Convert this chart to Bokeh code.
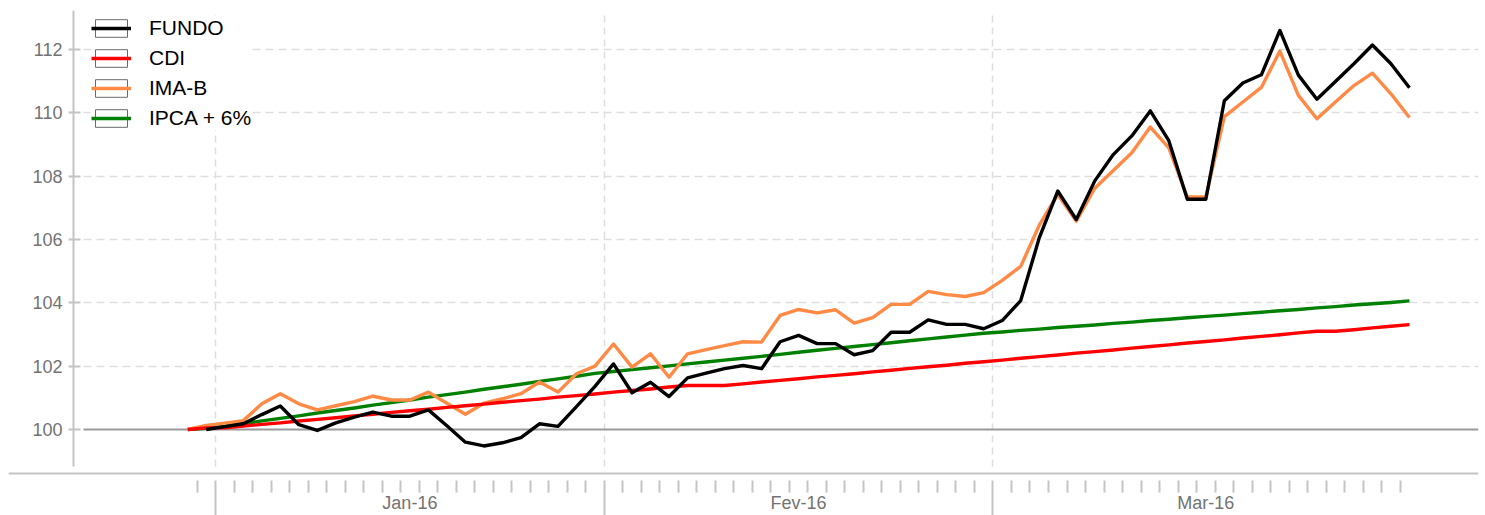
import numpy as np
from bokeh.plotting import figure
from bokeh.models import (FixedTicker, Legend, LegendItem, LinearAxis, Grid,
                          ColumnDataSource, Range1d)
from bokeh.embed import file_html
from bokeh.resources import INLINE

nan = float("nan")

# weekday index: 0 = 30-Dec-15, 1 = 31-Dec-15, 2 = 01-Jan-16 ... 66 = 31-Mar-16
day_index = list(range(67))

fundo = [nan, 100.00, 100.09, 100.18, 100.47, 100.74, 100.15, 99.97, 100.21, 100.39,
         100.55, 100.42, 100.42, 100.62, 100.12, 99.60, 99.48, 99.58, 99.74, 100.18,
         100.10, 100.72, 101.36, 102.07, 101.16, 101.49, 101.04, 101.63, 101.78, 101.92,
         102.02, 101.92, 102.77, 102.97, 102.71, 102.71, 102.36, 102.49, 103.07, 103.07,
         103.46, 103.32, 103.32, 103.18, 103.44, 104.07, 106.05, 107.53, 106.63, 107.85,
         108.68, 109.27, 110.06, 109.12, 107.27, 107.27, 110.38, 110.94, 111.20, 112.60,
         111.19, 110.43, 110.99, 111.55, 112.14, 111.55, 110.79]

cdi = [100.00, 100.05, 100.05, 100.11, 100.16, 100.21, 100.27, 100.32, 100.37, 100.43,
       100.48, 100.54, 100.59, 100.64, 100.70, 100.75, 100.80, 100.86, 100.91, 100.96,
       101.02, 101.07, 101.12, 101.18, 101.23, 101.28, 101.34, 101.39, 101.39, 101.39,
       101.44, 101.50, 101.55, 101.60, 101.66, 101.71, 101.76, 101.82, 101.87, 101.93,
       101.98, 102.03, 102.09, 102.14, 102.19, 102.25, 102.30, 102.35, 102.41, 102.46,
       102.51, 102.57, 102.62, 102.67, 102.73, 102.78, 102.83, 102.89, 102.94, 102.99,
       103.05, 103.10, 103.10, 103.15, 103.21, 103.26, 103.31]

imab = [100.00, 100.13, 100.20, 100.28, 100.81, 101.13, 100.81, 100.62, 100.75, 100.88,
        101.05, 100.93, 100.93, 101.18, 100.83, 100.48, 100.83, 100.97, 101.13, 101.50,
        101.18, 101.76, 102.00, 102.70, 101.97, 102.39, 101.65, 102.39, 102.52, 102.65,
        102.77, 102.76, 103.60, 103.79, 103.68, 103.78, 103.36, 103.53, 103.95, 103.95,
        104.36, 104.26, 104.20, 104.32, 104.71, 105.15, 106.45, 107.42, 106.58, 107.62,
        108.18, 108.74, 109.55, 108.89, 107.34, 107.34, 109.88, 110.34, 110.80, 111.95,
        110.55, 109.81, 110.34, 110.86, 111.25, 110.60, 109.85]

ipca6 = [100.00, 100.04, 100.10, 100.18, 100.27, 100.35, 100.43, 100.52, 100.60, 100.68,
         100.77, 100.85, 100.93, 101.02, 101.10, 101.18, 101.27, 101.35, 101.43, 101.52,
         101.60, 101.68, 101.77, 101.83, 101.89, 101.95, 102.01, 102.07, 102.13, 102.19,
         102.25, 102.31, 102.37, 102.44, 102.50, 102.56, 102.62, 102.68, 102.74, 102.80,
         102.86, 102.92, 102.98, 103.04, 103.08, 103.13, 103.17, 103.22, 103.26, 103.30,
         103.35, 103.39, 103.44, 103.48, 103.53, 103.57, 103.61, 103.66, 103.70, 103.75,
         103.79, 103.84, 103.88, 103.93, 103.97, 104.01, 104.06]

series_names = ["FUNDO", "CDI", "IMA-B", "IPCA + 6%"]
month_labels = ["Jan-16", "Fev-16", "Mar-16"]
month_bounds = [1.5, 22.5, 43.5]
month_centers = [12.0, 33.0, 55.0]
day_bounds = [i + 0.5 for i in range(66) if (i + 0.5) not in month_bounds]
y_ticks = [100, 102, 104, 106, 108, 110, 112]
BASE = 100

GRAY_TXT = "#737373"
AXIS_GRAY = "#c4c4c4"

# frame covers the whole picture except a thin margin; axes are placed inside it
X_LO, X_HI = -9.684, 69.73      # frame x extent (index units)
Y_LO, Y_HI = 97.284, 113.23     # frame y extent (value units)
Y_AXIS_AT = -6.172              # where the value axis stands
X_AXIS_AT = 98.611              # where the date axis stands
PLOT_LEFT = -5.632              # where the horizontal grid starts
PLOT_BOTTOM = 98.83             # bottom end of the value axis / vertical grid

p = figure(width=1485, height=515, output_backend="svg", toolbar_location=None,
           x_range=Range1d(X_LO, X_HI), y_range=Range1d(Y_LO, Y_HI),
           min_border_left=8, min_border_right=7, min_border_top=10,
           min_border_bottom=0)
p.outline_line_color = None
p.background_fill_color = "white"
p.border_fill_color = "white"

# date axis: day ticks and long month separators
xa = p.xaxis[0]
xa.fixed_location = X_AXIS_AT
xa.ticker = FixedTicker(ticks=month_bounds, minor_ticks=day_bounds)
xa.axis_line_color = AXIS_GRAY
xa.axis_line_width = 2
xa.major_tick_in = -7
xa.major_tick_out = 45
xa.major_tick_line_color = AXIS_GRAY
xa.major_tick_line_width = 2
xa.minor_tick_in = -7
xa.minor_tick_out = 19
xa.minor_tick_line_color = AXIS_GRAY
xa.minor_tick_line_width = 2
xa.major_label_overrides = {b: "" for b in month_bounds}
xa.major_label_text_font_size = "0px"
xa.major_label_standoff = 0

# month names, centred in each month
ma = LinearAxis(fixed_location=X_AXIS_AT,
                ticker=FixedTicker(ticks=month_centers, minor_ticks=[]),
                major_label_overrides={c: t for c, t in zip(month_centers, month_labels)},
                axis_line_color=None, major_tick_line_color=None,
                minor_tick_line_color=None, major_tick_out=0, major_tick_in=0,
                major_label_standoff=20, major_label_text_font="Liberation Sans",
                major_label_text_font_size="18px", major_label_text_color=GRAY_TXT)
p.add_layout(ma, "below")

# value axis
ya = p.yaxis[0]
ya.fixed_location = Y_AXIS_AT
ya.ticker = FixedTicker(ticks=y_ticks)
ya.bounds = (PLOT_BOTTOM, Y_HI)
ya.axis_line_color = AXIS_GRAY
ya.axis_line_width = 2
ya.major_tick_in = 7
ya.major_tick_out = 5
ya.major_tick_line_color = AXIS_GRAY
ya.major_tick_line_width = 2
ya.minor_tick_line_color = None
ya.major_label_standoff = 6
ya.major_label_text_font = "Liberation Sans"
ya.major_label_text_font_size = "18px"
ya.major_label_text_color = GRAY_TXT

# grids
p.xgrid.ticker = FixedTicker(ticks=month_bounds)
p.xgrid.cross_bounds = (PLOT_BOTTOM, Y_HI)
p.xgrid.grid_line_color = "#dedede"
p.xgrid.grid_line_dash = "7 5"
p.xgrid.grid_line_width = 1.5
p.ygrid.ticker = FixedTicker(ticks=[t for t in y_ticks if t != BASE])
p.ygrid.cross_bounds = (PLOT_LEFT, X_HI)
p.ygrid.grid_line_color = "#dedede"
p.ygrid.grid_line_dash = "8 5"
p.ygrid.grid_line_width = 1.5

base_grid = Grid(dimension=1, ticker=FixedTicker(ticks=[BASE]),
                 cross_bounds=(PLOT_LEFT, X_HI), grid_line_color="#9a9a9a",
                 grid_line_width=2)
p.add_layout(base_grid)

src = ColumnDataSource(dict(x=day_index, fundo=np.array(fundo, dtype=float),
                            cdi=cdi, imab=imab, ipca=ipca6))

LW = 3.4
r_ipca = p.line("x", "ipca", source=src, line_color="#008000", line_width=LW,
                line_join="round")
r_imab = p.line("x", "imab", source=src, line_color="#ff8a45", line_width=LW,
                line_join="round")
r_cdi = p.line("x", "cdi", source=src, line_color="#ff0000", line_width=LW,
               line_join="round")
r_fundo = p.line("x", "fundo", source=src, line_color="#000000", line_width=LW,
                 line_join="round")

box = p.rect(x=[nan], y=[nan], width=1, height=1, fill_color="white",
             fill_alpha=0.0, line_color="#6a6a6a", line_width=1)

items = [LegendItem(label=n, renderers=[box, r])
         for n, r in zip(series_names, [r_fundo, r_cdi, r_imab, r_ipca])]
legend = Legend(items=items, location=(83, 385), orientation="vertical",
                background_fill_color="white", background_fill_alpha=1.0,
                border_line_color=None, glyph_width=40, glyph_height=22,
                label_height=23, label_standoff=18, spacing=6, padding=4,
                margin=0, label_text_font="Liberation Sans",
                label_text_font_size="21px", label_text_color="black")
p.add_layout(legend)

open("out.html", "w").write(file_html(p, INLINE))
